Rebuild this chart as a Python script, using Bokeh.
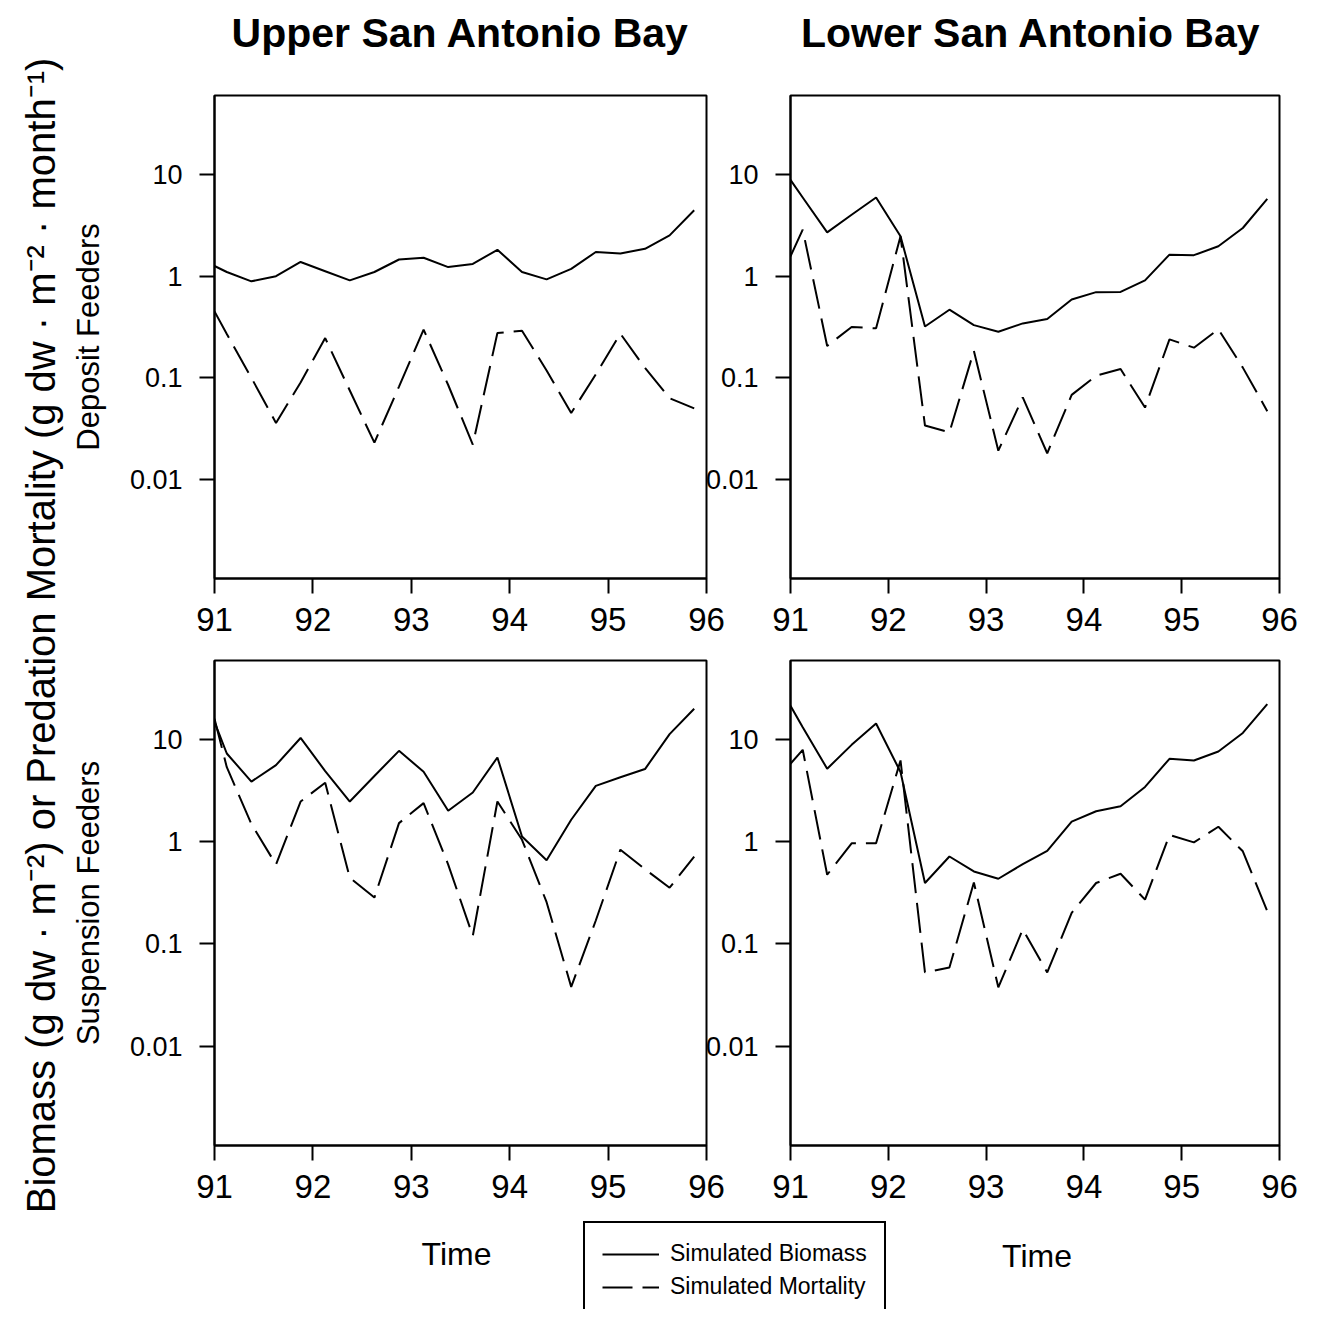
import math
from bokeh.plotting import figure
from bokeh.layouts import row, column
from bokeh.models import Range1d, FixedTicker, CustomJSTickFormatter, Legend, LegendItem, ColumnDataSource
from bokeh.embed import file_html
from bokeh.resources import INLINE
from bokeh.core.properties import value

# ---------------- data ----------------
TIME = [91.0, 91.125, 91.375, 91.625, 91.875, 92.125, 92.375, 92.625, 92.875, 93.125,
        93.375, 93.625, 93.875, 94.125, 94.375, 94.625, 94.875, 95.125, 95.375, 95.625, 95.875]

UPPER_DEPOSIT_BIOMASS = [1.26, 1.10, 0.89, 1.00, 1.38, 1.12, 0.91, 1.10, 1.46, 1.52,
                         1.23, 1.32, 1.82, 1.10, 0.93, 1.18, 1.73, 1.67, 1.86, 2.52, 4.45]
UPPER_DEPOSIT_MORTALITY = [0.45, 0.27, 0.10, 0.036, 0.09, 0.246, 0.075, 0.023, 0.082, 0.298,
                           0.085, 0.022, 0.276, 0.291, 0.118, 0.045, 0.108, 0.272, 0.125, 0.063, 0.05]
LOWER_DEPOSIT_BIOMASS = [8.87, 5.95, 2.70, 4.02, 5.95, 2.47, 0.32, 0.468, 0.33, 0.284,
                         0.343, 0.379, 0.59, 0.697, 0.70, 0.91, 1.63, 1.61, 1.97, 2.98, 5.77]
LOWER_DEPOSIT_MORTALITY = [1.57, 2.87, 0.206, 0.316, 0.307, 2.47, 0.0339, 0.0291, 0.184, 0.0192,
                           0.0641, 0.0181, 0.068, 0.105, 0.122, 0.051, 0.239, 0.198, 0.30, 0.126, 0.047]
UPPER_SUSPENSION_BIOMASS = [15.0, 7.36, 3.90, 5.66, 10.45, 4.95, 2.49, 4.43, 7.81, 4.88,
                            2.02, 3.05, 6.73, 1.13, 0.663, 1.65, 3.54, 4.30, 5.18, 11.4, 20.2]
UPPER_SUSPENSION_MORTALITY = [16.1, 5.4, 1.5, 0.6, 2.49, 3.8, 0.446, 0.285, 1.53, 2.4,
                              0.6, 0.12, 2.49, 1.05, 0.257, 0.038, 0.17, 0.84, 0.54, 0.356, 0.72]
LOWER_SUSPENSION_BIOMASS = [21.6, 13.3, 5.22, 8.94, 14.5, 4.84, 0.396, 0.72, 0.514, 0.436,
                            0.606, 0.817, 1.58, 2.00, 2.24, 3.46, 6.53, 6.29, 7.70, 11.7, 22.4]
LOWER_SUSPENSION_MORTALITY = [5.84, 8.0, 0.477, 0.97, 0.97, 6.29, 0.0526, 0.0588, 0.40, 0.0376,
                              0.139, 0.0526, 0.202, 0.396, 0.488, 0.272, 1.17, 0.99, 1.41, 0.81, 0.21]

X_TICKS = [91, 92, 93, 94, 95, 96]
Y_TICKS = [0.01, 0.1, 1, 10]
Y_TICK_LABELS = ["0.01", "0.1", "1", "10"]
SERIES_LABELS = ["Simulated Biomass", "Simulated Mortality"]
COLUMN_TITLES = ["Upper San Antonio Bay", "Lower San Antonio Bay"]
ROW_LABELS = ["Deposit Feeders", "Suspension Feeders"]
X_LABEL = "Time"
Y_LABEL = "Biomass (g dw \u00b7 m\u207b\u00b2) or Predation Mortality (g dw \u00b7 m\u207b\u00b2 \u00b7 month\u207b\u00b9)"

X_MIN, X_MAX = 91, 96
Y_MIN, Y_MAX = 0.00106, 60.0

FONT = "Liberation Sans"
DASH = "30 10"
NAN = float("nan")

# ---------------- geometry (page pixels) ----------------
STRIP_W = 66                  # left strip with the overall y label
LEFT_MBL, LEFT_FW, LEFT_MBR = 148, 492, 24
RIGHT_MBL, RIGHT_FW, RIGHT_MBR = 220, 489, 25
OVERLAP = 160
HEADER_H = 70
FOOTER_H = 89
TOP_MBT, TOP_FH, TOP_MBB = 25, 483, 70
BOT_MBT, BOT_FH, BOT_MBB = 12, 485, 75

LEFT_X0 = STRIP_W
LEFT_FRAME_CX = LEFT_X0 + LEFT_MBL + LEFT_FW / 2
RIGHT_X0 = LEFT_X0 + LEFT_MBL + LEFT_FW + LEFT_MBR - OVERLAP
RIGHT_FRAME_CX = RIGHT_X0 + RIGHT_MBL + RIGHT_FW / 2
PAGE_W = RIGHT_X0 + RIGHT_MBL + RIGHT_FW + RIGHT_MBR
PANELS_H = TOP_MBT + TOP_FH + TOP_MBB + BOT_MBT + BOT_FH + BOT_MBB
PAGE_H = HEADER_H + PANELS_H + FOOTER_H

y_fmt_code = """
for (let i = 0; i < tvals.length; i++) {
  if (Math.abs(tvals[i] - tick) / tvals[i] < 1e-6) { return tlabs[i]; }
}
return "";
"""


def blank(width, height, x0, y0):
    f = figure(width=width, height=height, x_range=Range1d(x0, x0 + width), y_range=Range1d(y0 + height, y0),
               output_backend="svg", toolbar_location=None, x_axis_location=None, y_axis_location=None,
               min_border=0)
    f.outline_line_color = None
    f.border_fill_color = None
    f.background_fill_color = None
    f.grid.visible = False
    return f


def make_panel(biomass, mortality, mbl, mbr, mbt, mbb, fw, fh, ylabel=None):
    p = figure(frame_width=fw, frame_height=fh,
               x_range=Range1d(X_MIN, X_MAX), y_range=Range1d(Y_MIN, Y_MAX),
               y_axis_type="log", output_backend="svg", toolbar_location=None,
               min_border_left=mbl, min_border_right=mbr, min_border_top=mbt, min_border_bottom=mbb)
    p.border_fill_color = None
    p.background_fill_color = None
    p.outline_line_color = "black"
    p.outline_line_width = 2
    p.xgrid.visible = False
    p.ygrid.visible = False

    src = ColumnDataSource(dict(t=TIME, b=biomass, m=mortality))
    p.line("t", "b", source=src, line_color="black", line_width=2)
    p.line("t", "m", source=src, line_color="black", line_width=2, line_dash=DASH)

    for ax in (p.xaxis[0], p.yaxis[0]):
        ax.axis_line_color = "black"
        ax.axis_line_width = 2
        ax.major_tick_line_color = "black"
        ax.major_tick_line_width = 2
        ax.major_tick_in = 0
        ax.major_tick_out = 15
        ax.minor_tick_line_color = None
        ax.major_label_standoff = 14
        ax.major_label_text_font = FONT
        ax.major_label_text_color = "black"
        ax.axis_label_text_font = FONT
        ax.axis_label_text_font_style = "normal"
        ax.axis_label_text_color = "black"

    p.xaxis.ticker = FixedTicker(ticks=X_TICKS)
    p.xaxis.major_label_text_font_size = "33px"
    p.yaxis.ticker = FixedTicker(ticks=Y_TICKS)
    p.yaxis.formatter = CustomJSTickFormatter(args=dict(tvals=Y_TICKS, tlabs=Y_TICK_LABELS), code=y_fmt_code)
    p.yaxis.major_label_text_font_size = "27px"
    p.yaxis.major_label_standoff = 17

    if ylabel:
        p.yaxis.axis_label = ylabel
        p.yaxis.axis_label_text_font_size = "31px"
        p.yaxis.axis_label_standoff = 21
    return p


tl = make_panel(UPPER_DEPOSIT_BIOMASS, UPPER_DEPOSIT_MORTALITY, LEFT_MBL, LEFT_MBR, TOP_MBT, TOP_MBB,
                LEFT_FW, TOP_FH, ylabel=ROW_LABELS[0])
bl = make_panel(UPPER_SUSPENSION_BIOMASS, UPPER_SUSPENSION_MORTALITY, LEFT_MBL, LEFT_MBR, BOT_MBT, BOT_MBB,
                LEFT_FW, BOT_FH, ylabel=ROW_LABELS[1])
tr = make_panel(LOWER_DEPOSIT_BIOMASS, LOWER_DEPOSIT_MORTALITY, RIGHT_MBL, RIGHT_MBR, TOP_MBT, TOP_MBB,
                RIGHT_FW, TOP_FH)
br = make_panel(LOWER_SUSPENSION_BIOMASS, LOWER_SUSPENSION_MORTALITY, RIGHT_MBL, RIGHT_MBR, BOT_MBT, BOT_MBB,
                RIGHT_FW, BOT_FH)

# header with the two column titles (data coords = page pixels)
header = blank(PAGE_W - STRIP_W, HEADER_H, STRIP_W, 0)
header.text(x=[LEFT_FRAME_CX, RIGHT_FRAME_CX - 4], y=[32, 32], text=COLUMN_TITLES,
            text_font=value(FONT), text_font_size="41px", text_font_style="bold",
            text_align="center", text_baseline="middle", text_color="black")

# footer with the x labels and the legend box
footer_y0 = HEADER_H + PANELS_H
footer = blank(PAGE_W - STRIP_W, FOOTER_H, STRIP_W, footer_y0)
footer.text(x=[LEFT_FRAME_CX - 4, RIGHT_FRAME_CX + 2], y=[footer_y0 + 33, footer_y0 + 35], text=[X_LABEL, X_LABEL],
            text_font=value(FONT), text_font_size="32px",
            text_align="center", text_baseline="middle", text_color="black")
# legend-only renderers (no visible points)
lb = footer.line(x=[NAN], y=[NAN], line_color="black", line_width=2)
lm = footer.line(x=[NAN], y=[NAN], line_color="black", line_width=2, line_dash=DASH)
LEG_PAD, LEG_ROW, LEG_SP = 17, 26, 6
LEG_H = 2 * LEG_PAD + 2 * LEG_ROW + LEG_SP
legend = Legend(items=[LegendItem(label=SERIES_LABELS[0], renderers=[lb]),
                       LegendItem(label=SERIES_LABELS[1], renderers=[lm])],
                location=(583 - STRIP_W, (FOOTER_H - 7) - LEG_H))
legend.label_text_font = FONT
legend.label_text_font_size = "23px"
legend.label_text_color = "black"
legend.label_height = LEG_ROW
legend.glyph_height = LEG_ROW
legend.glyph_width = 57
legend.label_standoff = 11
legend.padding = LEG_PAD
legend.spacing = LEG_SP
legend.margin = 0
legend.border_line_color = "black"
legend.border_line_width = 2
legend.border_line_alpha = 1.0
legend.background_fill_color = "white"
legend.background_fill_alpha = 1.0
footer.add_layout(legend, "center")

# left strip with the overall y label
strip = blank(STRIP_W, PAGE_H, 0, 0)
strip.text(x=[40], y=[635], text=[Y_LABEL], angle=math.pi / 2,
           text_font=value(FONT), text_font_size="40px", text_align="center",
           text_baseline="middle", text_color="black")

left_col = column(tl, bl, spacing=0)
right_col = column(tr, br, spacing=0)
right_col.margin = (0, 0, 0, -OVERLAP)
panels = row(left_col, right_col, spacing=0)
main = column(header, panels, footer, spacing=0)
root = row(strip, main, spacing=0)

open("out.html", "w").write(file_html(root, INLINE))
